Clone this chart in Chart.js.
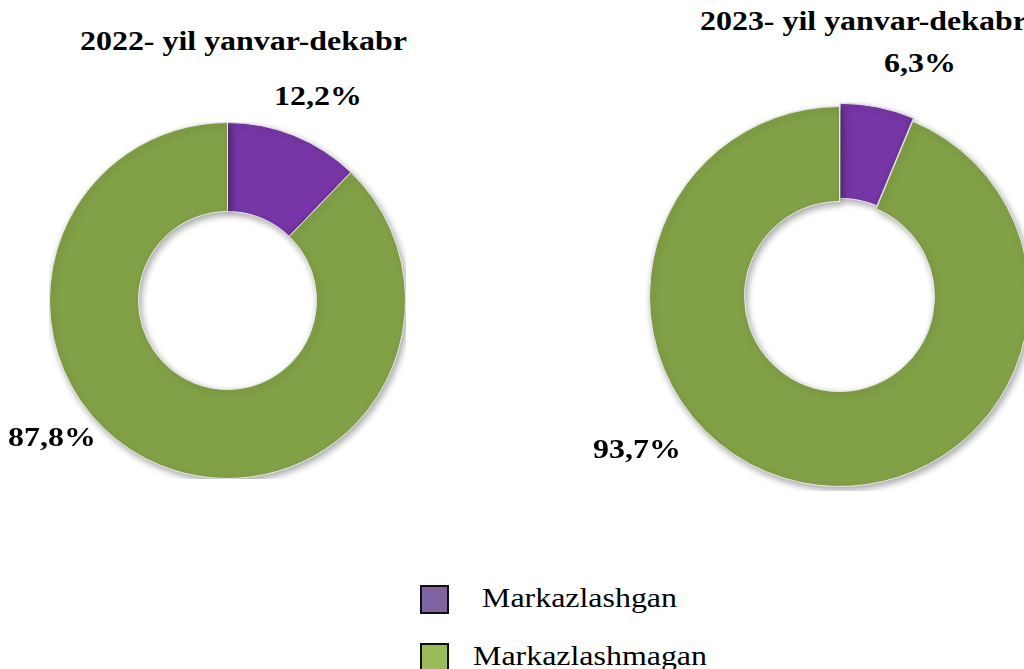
<!DOCTYPE html>
<html>
<head>
<meta charset="utf-8">
<script src="https://cdn.jsdelivr.net/npm/chart.js@4"></script>
<style>
    html, body { margin: 0; padding: 0; width: 1024px; height: 669px; overflow: hidden; background: #fff; }
    body { position: relative; font-family: "Liberation Serif", "Times New Roman", serif; color: #000; }
    .box { position: absolute; }
    .title { position: absolute; font-weight: bold; font-size: 28px; white-space: nowrap; transform: scaleX(1.14); transform-origin: left center; }
    .pct { position: absolute; font-weight: bold; font-size: 28px; white-space: nowrap; transform: translate(-50%, -50%) scaleX(1.14); }
    .legend-item { position: absolute; font-size: 28px; white-space: nowrap; }
    .legend-item span.sw { position: absolute; left: 0; top: 1px; width: 25px; height: 25px; border: 2px solid #111; }
    .legend-item span.tx { display: inline-block; transform: scaleX(1.14); transform-origin: left center; }
</style>
</head>
<body>

<div class="title" style="left:80px; top:25px;">2022- yil yanvar-dekabr</div>
<div class="title" style="left:700px; top:5px;">2023- yil yanvar-dekabr</div>

<div class="box" style="left:49px; top:122px; width:357px; height:357px;"><canvas id="chart2022"></canvas></div>
<div class="box" style="left:645px; top:102px; width:389px; height:389px;"><canvas id="chart2023"></canvas></div>

<div class="pct" id="lbl2022a" style="left:318px; top:96px;"></div>
<div class="pct" id="lbl2022b" style="left:52px; top:437px;"></div>
<div class="pct" id="lbl2023a" style="left:920px; top:63px;"></div>
<div class="pct" id="lbl2023b" style="left:637px; top:449px;"></div>

<div id="legend"></div>

<script>
const categories = ["Markazlashgan", "Markazlashmagan"];
const values2022 = [12.2, 87.8];
const values2023 = [6.3, 93.7];

const sliceColors = ["#7636a6", "#82a046"];
const legendColors = ["#8064a2", "#9bbb59"];

// format like 12,2%
function fmt(v) {
    return v.toFixed(1).replace(".", ",") + "%";
}

document.getElementById("lbl2022a").textContent = fmt(values2022[0]);
document.getElementById("lbl2022b").textContent = fmt(values2022[1]);
document.getElementById("lbl2023a").textContent = fmt(values2023[0]);
document.getElementById("lbl2023b").textContent = fmt(values2023[1]);

// legend
const legendPos = [{ left: 420, top: 584, pad: 62 }, { left: 420, top: 642, pad: 53 }];
const legend = document.getElementById("legend");
categories.forEach((name, i) => {
    const item = document.createElement("div");
    item.className = "legend-item";
    item.style.left = legendPos[i].left + "px";
    item.style.top = legendPos[i].top + "px";
    item.style.paddingLeft = legendPos[i].pad + "px";
    item.style.lineHeight = "28px";
    item.innerHTML = '<span class="sw" style="background:' + legendColors[i] + '"></span><span class="tx">' + name + '</span>';
    legend.appendChild(item);
});

// soft shadow under the rings
const shadowPlugin = {
    id: "ringShadow",
    beforeDatasetsDraw(chart) {
        const ctx = chart.ctx;
        ctx.save();
        ctx.shadowColor = "rgba(0,0,0,0.35)";
        ctx.shadowBlur = 7;
        ctx.shadowOffsetX = 2;
        ctx.shadowOffsetY = 3;
    },
    afterDatasetsDraw(chart) {
        chart.ctx.restore();
    }
};

function makeChart(id, values, offsets) {
    const ctx = document.getElementById(id).getContext("2d");
    return new Chart(ctx, {
        type: "doughnut",
        data: {
            labels: categories,
            datasets: [{
                data: values,
                backgroundColor: sliceColors,
                borderColor: "#e8e8e8",
                borderWidth: 1,
                offset: offsets
            }]
        },
        options: {
            responsive: true,
            maintainAspectRatio: false,
            animation: false,
            cutout: "50%",
            rotation: 0,
            layout: { padding: 0 },
            plugins: {
                legend: { display: false },
                tooltip: { enabled: false }
            }
        },
        plugins: [shadowPlugin]
    });
}

makeChart("chart2022", values2022, [0, 0]);
makeChart("chart2023", values2023, [8, 0]);
</script>
</body>
</html>
